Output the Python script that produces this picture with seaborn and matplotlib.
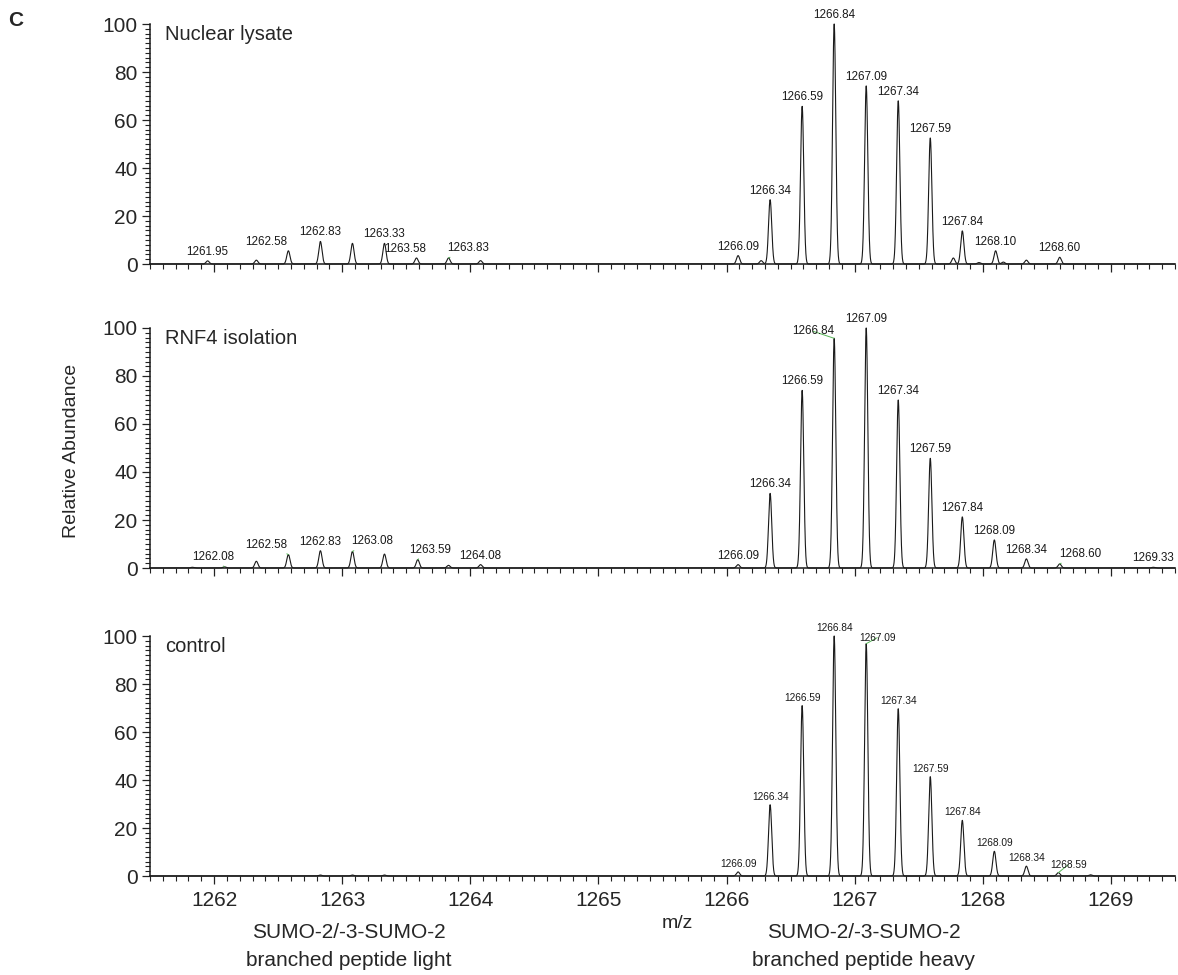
import numpy as np
import pandas as pd
import matplotlib
matplotlib.use("Agg")
import matplotlib.pyplot as plt
from matplotlib.ticker import MultipleLocator
import matplotlib.transforms as mtransforms
import seaborn as sns

# ---------------- data ----------------
panel_names = ["Nuclear lysate", "RNF4 isolation", "control"]

nuc_mz = [1261.95, 1262.33, 1262.58, 1262.83, 1263.08, 1263.33, 1263.58, 1263.83, 1264.08,
          1266.09, 1266.27, 1266.34, 1266.59, 1266.84, 1267.09, 1267.34, 1267.59, 1267.77,
          1267.84, 1267.97, 1268.10, 1268.16, 1268.34, 1268.60]
nuc_int = [1.3, 1.6, 5.5, 9.4, 8.6, 8.6, 2.5, 2.5, 1.4,
           3.5, 1.4, 26.8, 65.7, 100.0, 74.2, 68.0, 52.5, 2.5,
           13.8, 0.6, 5.5, 0.8, 1.6, 2.8]
nuc_labels = ["1261.95", "1262.58", "1262.83", "1263.33", "1263.58", "1263.83",
              "1266.09", "1266.34", "1266.59", "1266.84", "1267.09", "1267.34",
              "1267.59", "1267.84", "1268.10", "1268.60"]

rnf_mz = [1261.83, 1262.08, 1262.33, 1262.58, 1262.83, 1263.08, 1263.33, 1263.59, 1263.83, 1264.08,
          1266.09, 1266.34, 1266.59, 1266.84, 1267.09, 1267.34, 1267.59, 1267.84, 1268.09,
          1268.34, 1268.60, 1269.33]
rnf_int = [0.3, 0.5, 2.8, 5.6, 7.2, 6.9, 5.8, 3.5, 1.1, 1.4,
           1.4, 31.1, 74.0, 95.7, 100.0, 70.0, 45.7, 21.3, 11.7,
           3.8, 1.7, 0.3]
rnf_labels = ["1262.08", "1262.58", "1262.83", "1263.08", "1263.59", "1264.08",
              "1266.09", "1266.34", "1266.59", "1266.84", "1267.09", "1267.34",
              "1267.59", "1267.84", "1268.09", "1268.34", "1268.60", "1269.33"]

ctl_mz = [1262.83, 1263.08, 1263.33,
          1266.09, 1266.34, 1266.59, 1266.84, 1267.09, 1267.34, 1267.59, 1267.84,
          1268.09, 1268.34, 1268.59, 1268.84]
ctl_int = [0.4, 0.4, 0.4,
           1.7, 29.7, 71.0, 100.0, 96.8, 69.7, 41.4, 23.2,
           10.3, 4.1, 1.4, 0.5]
ctl_labels = ["1266.09", "1266.34", "1266.59", "1266.84", "1267.09", "1267.34",
              "1267.59", "1267.84", "1268.09", "1268.34", "1268.59"]

x_ticks = [1262, 1263, 1264, 1265, 1266, 1267, 1268, 1269]
y_ticks = [0, 20, 40, 60, 80, 100]
peptide_title = "SUMO-2/-3-SUMO-2"
light_text = "branched peptide light"
heavy_text = "branched peptide heavy"
light_center = 1263.05
heavy_center = 1267.07

panels = [(nuc_mz, nuc_int, nuc_labels),
          (rnf_mz, rnf_int, rnf_labels),
          (ctl_mz, ctl_int, ctl_labels)]

# ---------------- style ----------------
sns.set_theme(style="ticks")
plt.rcParams["font.family"] = ["Liberation Sans", "DejaVu Sans"]

# label nudges (pixels) and which labels have green leader lines
nudges = [
    {"1262.58": (-22, 3), "1263.58": (-11, 3), "1263.83": (20, 4)},
    {"1262.08": (-11, 4), "1262.58": (-22, 4), "1263.08": (20, 4), "1263.59": (12, 4),
     "1266.84": (-21, 1), "1268.60": (21, 4)},
    {"1267.09": (11, 1), "1268.59": (10, 3)},
]
green = [{"1263.83"},
         {"1262.08", "1262.58", "1263.08", "1263.59", "1266.84", "1268.60"},
         {"1267.09", "1268.59"}]
label_size = [8.4, 8.4, 7.3]

fig = plt.figure(figsize=(11.78, 9.75), dpi=100)
left, width, height = 150 / 1178, 1025 / 1178, 240 / 975
bottoms = [1 - 264 / 975, 1 - 568 / 975, 1 - 876 / 975]

grid = np.linspace(1261.5, 1269.5, 16001)
sigma = 0.0125

for i, ((mz, inten, labels), name) in enumerate(zip(panels, panel_names)):
    ax = fig.add_axes([left, bottoms[i], width, height])
    peaks = pd.DataFrame({"mz": mz, "intensity": inten})
    profile = np.zeros_like(grid)
    for c, h in zip(peaks["mz"], peaks["intensity"]):
        profile += h * np.exp(-0.5 * ((grid - c) / sigma) ** 2)
    spec = pd.DataFrame({"mz": grid, "abundance": profile})
    sns.lineplot(data=spec, x="mz", y="abundance", ax=ax, color="#1a1a1a",
                 linewidth=0.8, estimator=None, sort=False, clip_on=False)

    for c, h in zip(peaks["mz"], peaks["intensity"]):
        lab = f"{c:.2f}"
        if lab not in labels:
            continue
        dx, dy = nudges[i].get(lab, (0, 3))
        kw = {}
        if lab in green[i]:
            kw["arrowprops"] = dict(arrowstyle="-", color="#55b555", lw=0.7,
                                    shrinkA=0, shrinkB=0)
        ax.annotate(lab, xy=(c, h), xytext=(dx, dy), textcoords="offset pixels",
                    ha="center", va="bottom", fontsize=label_size[i],
                    color="#1a1a1a", annotation_clip=False, **kw)

    ax.set_xlim(1261.5, 1269.5)
    ax.set_ylim(0, 100)
    ax.set_xticks(x_ticks)
    ax.set_yticks(y_ticks)
    ax.xaxis.set_minor_locator(MultipleLocator(0.1))
    ax.yaxis.set_minor_locator(MultipleLocator(2))
    ax.tick_params(axis="both", which="major", direction="out", length=6,
                   width=0.9, labelsize=15, color="#222222", pad=3)
    ax.tick_params(axis="x", which="major", pad=5)
    ax.tick_params(axis="both", which="minor", direction="out", length=3.8,
                   width=0.8, color="#222222")
    for s in ["top", "right"]:
        ax.spines[s].set_visible(False)
    for s in ["left", "bottom"]:
        ax.spines[s].set_linewidth(1.1)
        ax.spines[s].set_color("#1a1a1a")
    ax.set_xlabel("")
    ax.set_ylabel("")
    if i < 2:
        ax.set_xticklabels([])
    ax.text(0.015, 0.955, name, transform=ax.transAxes, fontsize=14.5,
            ha="left", va="center")
    if i == 2:
        trans = mtransforms.blended_transform_factory(ax.transData, fig.transFigure)
        for cx, sub in [(light_center, light_text), (heavy_center, heavy_text)]:
            fig.text(cx, 1 - 932 / 975, peptide_title, transform=trans,
                     ha="center", va="center", fontsize=15)
            fig.text(cx, 1 - 961 / 975, sub, transform=trans,
                     ha="center", va="center", fontsize=15)

fig.text(0.575, 1 - 924 / 975, "m/z", ha="center", va="center", fontsize=14)
fig.text(0.061, 0.538, "Relative Abundance", rotation=90, ha="center",
         va="center", fontsize=14)
fig.text(0.007, 1 - 21 / 975, "C", fontsize=15, fontweight="bold",
         ha="left", va="center")

fig.savefig("out.png", dpi=100)
